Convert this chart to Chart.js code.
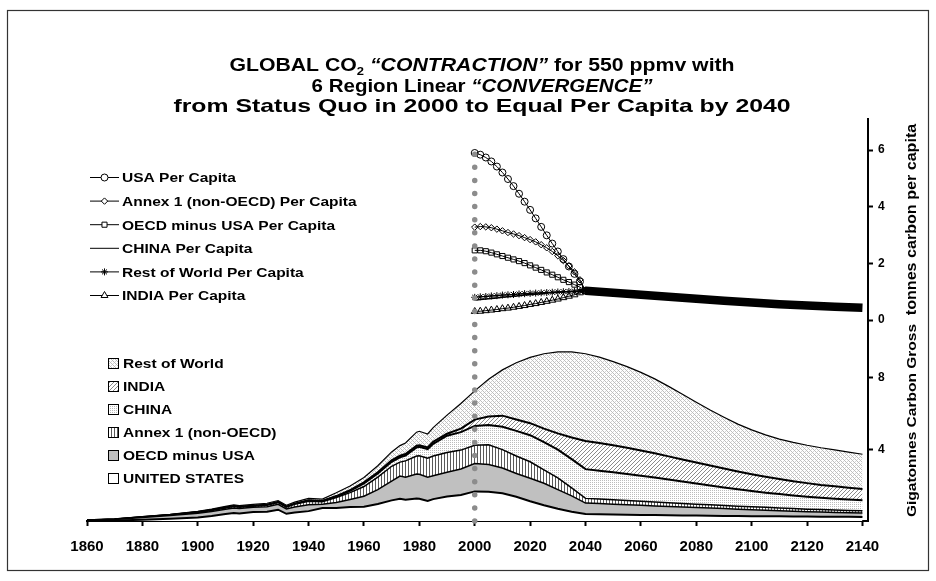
<!DOCTYPE html>
<html>
<head>
<meta charset="utf-8">
<title>Global CO2 Contraction and Convergence</title>
<script src="https://cdn.jsdelivr.net/npm/chart.js@4.4.0/dist/chart.umd.min.js"></script>
<style>
  html, body { margin: 0; padding: 0; background: #fff; }
  canvas { display: block; }
</style>
</head>
<body>
<canvas id="ccChart" width="936" height="581"></canvas>
<script>
// Emission years: history at uneven steps, projection every 5 years
var years = [1860, 1870, 1880, 1890, 1900, 1905, 1910, 1913, 1915, 1920, 1925, 1929, 1932, 1935, 1940,
  1945, 1950, 1955, 1960, 1965, 1970, 1973, 1975, 1979, 1980, 1983, 1985, 1990, 1995,
  2000, 2005, 2010, 2015, 2020, 2025, 2030, 2035, 2040, 2045, 2050, 2055, 2060, 2065, 2070,
  2075, 2080, 2085, 2090, 2095, 2100, 2105, 2110, 2115, 2120, 2125, 2130, 2135, 2140];

// Gigatonnes carbon per region (stacked bottom to top)
var usGross = [0.01, 0.03, 0.07, 0.13, 0.20, 0.28, 0.39, 0.44, 0.42, 0.50, 0.52, 0.63, 0.40, 0.47, 0.55,
  0.72, 0.72, 0.78, 0.80, 0.95, 1.15, 1.24, 1.18, 1.26, 1.24, 1.12, 1.22, 1.36, 1.45,
  1.65, 1.63, 1.55, 1.35, 1.10, 0.88, 0.68, 0.52, 0.39, 0.38, 0.36, 0.35, 0.34, 0.33, 0.32,
  0.31, 0.30, 0.29, 0.28, 0.28, 0.27, 0.26, 0.26, 0.25, 0.25, 0.24, 0.23, 0.23, 0.22];
var oecdGross = [0.03, 0.06, 0.12, 0.17, 0.23, 0.25, 0.27, 0.29, 0.28, 0.26, 0.27, 0.30, 0.27, 0.31, 0.35,
  0.22, 0.31, 0.42, 0.58, 0.80, 1.07, 1.26, 1.26, 1.36, 1.36, 1.32, 1.30, 1.36, 1.45,
  1.55, 1.52, 1.40, 1.30, 1.28, 1.22, 1.07, 0.88, 0.61, 0.59, 0.58, 0.56, 0.54, 0.51, 0.49,
  0.47, 0.45, 0.43, 0.41, 0.38, 0.36, 0.34, 0.31, 0.30, 0.27, 0.26, 0.25, 0.23, 0.23];
var annexGross = [0.005, 0.01, 0.02, 0.03, 0.05, 0.06, 0.07, 0.08, 0.07, 0.06, 0.09, 0.10, 0.10, 0.15, 0.20,
  0.13, 0.28, 0.38, 0.54, 0.70, 0.83, 0.78, 0.91, 1.00, 1.03, 1.06, 1.10, 1.10, 1.05,
  1.02, 1.10, 1.03, 0.97, 0.92, 0.75, 0.65, 0.45, 0.26, 0.25, 0.24, 0.23, 0.22, 0.22, 0.21,
  0.20, 0.19, 0.18, 0.17, 0.16, 0.16, 0.16, 0.15, 0.14, 0.14, 0.14, 0.13, 0.13, 0.12];
var chinaGross = [0, 0, 0.005, 0.005, 0.01, 0.01, 0.01, 0.01, 0.01, 0.02, 0.02, 0.02, 0.02, 0.02, 0.03,
  0.03, 0.05, 0.10, 0.18, 0.20, 0.25, 0.27, 0.29, 0.48, 0.50, 0.50, 0.68, 0.93, 1.00,
  1.08, 1.10, 1.27, 1.40, 1.48, 1.55, 1.58, 1.60, 1.63, 1.58, 1.53, 1.48, 1.42, 1.36, 1.29,
  1.22, 1.15, 1.08, 1.01, 0.95, 0.88, 0.82, 0.78, 0.73, 0.69, 0.65, 0.63, 0.61, 0.59];
var indiaGross = [0, 0, 0.005, 0.005, 0.01, 0.01, 0.01, 0.01, 0.01, 0.01, 0.01, 0.01, 0.01, 0.01, 0.02,
  0.02, 0.03, 0.04, 0.05, 0.07, 0.08, 0.09, 0.09, 0.10, 0.09, 0.10, 0.12, 0.11, 0.20,
  0.35, 0.47, 0.62, 0.64, 0.67, 0.75, 0.90, 1.20, 1.57, 1.55, 1.51, 1.46, 1.41, 1.35, 1.29,
  1.23, 1.17, 1.11, 1.05, 0.99, 0.94, 0.89, 0.84, 0.80, 0.76, 0.72, 0.69, 0.65, 0.62];
var rowGross = [0.005, 0.01, 0.02, 0.03, 0.04, 0.05, 0.06, 0.07, 0.07, 0.08, 0.08, 0.08, 0.08, 0.09, 0.11,
  0.10, 0.18, 0.23, 0.27, 0.36, 0.47, 0.56, 0.62, 0.75, 0.78, 0.75, 0.78, 1.04, 1.40,
  1.60, 2.08, 2.55, 3.16, 3.67, 4.17, 4.54, 4.77, 4.86, 4.78, 4.66, 4.52, 4.35, 4.15, 3.90,
  3.63, 3.36, 3.09, 2.86, 2.64, 2.47, 2.33, 2.22, 2.16, 2.11, 2.07, 2.03, 1.99, 1.94];

// Tonnes carbon per capita during convergence, every 2 years
var perCapitaYears = [2000, 2002, 2004, 2006, 2008, 2010, 2012, 2014, 2016, 2018, 2020,
  2022, 2024, 2026, 2028, 2030, 2032, 2034, 2036, 2038, 2040];
var usaPerCapita = [5.90, 5.84, 5.74, 5.60, 5.42, 5.21, 4.98, 4.73, 4.46, 4.18, 3.89,
  3.59, 3.29, 2.99, 2.70, 2.42, 2.15, 1.89, 1.63, 1.36, 1.03];
var annexPerCapita = [3.28, 3.30, 3.29, 3.26, 3.21, 3.15, 3.09, 3.04, 2.98, 2.91, 2.84,
  2.76, 2.66, 2.55, 2.42, 2.27, 2.10, 1.91, 1.70, 1.42, 1.03];
var oecdPerCapita = [2.46, 2.46, 2.43, 2.38, 2.32, 2.26, 2.20, 2.14, 2.08, 2.01, 1.93,
  1.85, 1.77, 1.68, 1.60, 1.51, 1.42, 1.34, 1.25, 1.16, 1.03];
var chinaPerCapita = [0.70, 0.72, 0.74, 0.76, 0.78, 0.80, 0.82, 0.84, 0.86, 0.88, 0.90,
  0.91, 0.93, 0.95, 0.96, 0.98, 0.99, 1.00, 1.01, 1.02, 1.03];
var rowPerCapita = [0.80, 0.82, 0.83, 0.85, 0.86, 0.88, 0.89, 0.90, 0.92, 0.93, 0.94,
  0.95, 0.96, 0.97, 0.98, 0.99, 1.00, 1.01, 1.02, 1.02, 1.03];
var indiaPerCapita = [0.30, 0.31, 0.33, 0.35, 0.37, 0.40, 0.42, 0.45, 0.48, 0.51, 0.55,
  0.58, 0.62, 0.66, 0.70, 0.74, 0.79, 0.84, 0.89, 0.96, 1.03];

// after 2040 every region sits on the same per capita value
var convergedYears = [2040, 2050, 2060, 2070, 2080, 2090, 2100, 2110, 2120, 2130, 2140];
var convergedPerCapita = [1.03, 0.96, 0.89, 0.82, 0.75, 0.68, 0.62, 0.56, 0.51, 0.47, 0.43];

var yearTicks = [1860, 1880, 1900, 1920, 1940, 1960, 1980, 2000, 2020, 2040, 2060, 2080, 2100, 2120, 2140];
var perCapitaTicks = [0, 2, 4, 6];
var grossTicks = [4, 8];
var markerYear = 2000;

var titleLines = [
  [["GLOBAL CO", "b"], ["2", "sub"], [" ", "b"], ["\u201cCONTRACTION\u201d", "bi"], [" for 550 ppmv with", "b"]],
  [["6 Region Linear ", "b"], ["\u201cCONVERGENCE\u201d", "bi"]],
  [["from Status Quo in 2000 to Equal Per Capita by 2040", "b"]]
];

var FONT = "'Liberation Sans', Arial, sans-serif";
Chart.defaults.font.family = FONT;
Chart.defaults.color = "#000";

var canvas = document.getElementById("ccChart");
var ctx = canvas.getContext("2d");

// small tiled fills in the style of the old spreadsheet patterns
function makePattern(w, h, paint) {
  var c = document.createElement("canvas");
  c.width = w; c.height = h;
  var g = c.getContext("2d");
  g.fillStyle = "#fff";
  g.fillRect(0, 0, w, h);
  paint(g);
  return ctx.createPattern(c, "repeat");
}
function dots(g, color, list) {
  g.fillStyle = color;
  list.forEach(function (p) { g.fillRect(p[0], p[1], 1, 1); });
}
var rowFill = makePattern(4, 4, function (g) {
  dots(g, "#bdbdbd", [[0, 0], [1, 1], [2, 2], [3, 3]]);
  dots(g, "#d6d6d6", [[3, 1], [1, 3]]);
});
var indiaFill = makePattern(4, 4, function (g) {
  dots(g, "#8a8a8a", [[3, 0], [2, 1], [1, 2], [0, 3]]);
});
var chinaFill = makePattern(2, 2, function (g) {
  dots(g, "#bcbcbc", [[0, 0]]);
});
var annexFill = makePattern(3, 1, function (g) {
  dots(g, "#5a5a5a", [[0, 0]]);
});

function pts(xs, ys) {
  return ys.map(function (v, i) { return { x: xs[i], y: v }; });
}

var regions = [
  { label: "UNITED STATES", values: usGross, fill: "#ffffff", width: 2 },
  { label: "OECD minus USA", values: oecdGross, fill: "#c0c0c0", width: 1.5 },
  { label: "Annex 1 (non-OECD)", values: annexGross, fill: annexFill, width: 1.5 },
  { label: "CHINA", values: chinaGross, fill: chinaFill, width: 2 },
  { label: "INDIA", values: indiaGross, fill: indiaFill, width: 2 },
  { label: "Rest of World", values: rowGross, fill: rowFill, width: 1.2 }
];

var perCapita = [
  { label: "USA Per Capita", values: usaPerCapita, style: "circle", radius: 3.5 },
  { label: "Annex 1 (non-OECD) Per Capita", values: annexPerCapita, style: "rectRot", radius: 3.2 },
  { label: "OECD minus USA Per Capita", values: oecdPerCapita, style: "rect", radius: 3.6 },
  { label: "CHINA Per Capita", values: chinaPerCapita, style: false, radius: 0 },
  { label: "Rest of World Per Capita", values: rowPerCapita, style: "star", radius: 3.5 },
  { label: "INDIA Per Capita", values: indiaPerCapita, style: "triangle", radius: 4 }
];

var datasets = [];
regions.forEach(function (r, i) {
  datasets.push({
    label: r.label,
    data: pts(years, r.values),
    yAxisID: "y",
    stack: "gross",
    fill: i === 0 ? "origin" : "-1",
    backgroundColor: r.fill,
    borderColor: "#000",
    borderWidth: r.width,
    pointRadius: 0,
    tension: 0,
    order: 2,
    kind: "area"
  });
});
perCapita.forEach(function (p) {
  datasets.push({
    label: p.label,
    data: pts(perCapitaYears, p.values),
    yAxisID: "y2",
    fill: false,
    borderColor: "#000",
    borderWidth: p.style ? 1 : 1.5,
    pointStyle: p.style || "circle",
    pointRadius: p.radius,
    pointBorderWidth: 1,
    pointBorderColor: "#000",
    pointBackgroundColor: "rgba(255,255,255,0)",
    tension: 0,
    order: 1,
    kind: "capita"
  });
});
datasets.push({
  label: "Equal Per Capita",
  data: pts(convergedYears, convergedPerCapita),
  yAxisID: "y2",
  fill: false,
  borderColor: "#000",
  borderWidth: 8.5,
  borderCapStyle: "butt",
  pointRadius: 0,
  tension: 0,
  order: 1
});

// text with a slight horizontal stretch, parts = [[text, kind]]
var STRETCH = 1.15;
function partFont(kind, size) {
  if (kind === "bi") return "italic bold " + size + "px " + FONT;
  if (kind === "sub") return "bold " + Math.round(size * 0.62) + "px " + FONT;
  return "bold " + size + "px " + FONT;
}
function drawParts(c, parts, x, y, size, align, stretch) {
  var w = 0;
  parts.forEach(function (p) { c.font = partFont(p[1], size); w += c.measureText(p[0]).width; });
  var start = align === "center" ? x - w * stretch / 2 : x;
  c.save();
  c.translate(start, y);
  c.scale(stretch, 1);
  c.textAlign = "left";
  c.textBaseline = "alphabetic";
  var cx = 0;
  parts.forEach(function (p) {
    c.font = partFont(p[1], size);
    c.fillText(p[0], cx, p[1] === "sub" ? size * 0.22 : 0);
    cx += c.measureText(p[0]).width;
  });
  c.restore();
}
function drawVertical(c, text, x, cy, size, stretch) {
  c.save();
  c.translate(x, cy);
  c.rotate(-Math.PI / 2);
  c.scale(stretch, 1);
  c.font = "bold " + size + "px " + FONT;
  c.textAlign = "center";
  c.textBaseline = "alphabetic";
  c.fillText(text, 0, 0);
  c.restore();
}

var ccDecor = {
  id: "ccDecor",
  beforeDraw: function (chart) {
    var c = chart.ctx;
    c.save();
    c.fillStyle = "#fff";
    c.fillRect(0, 0, chart.width, chart.height);
    c.strokeStyle = "#333";
    c.lineWidth = 1.2;
    c.strokeRect(7.5, 10.5, 921, 560);
    c.restore();
  },
  afterDatasetsDraw: function (chart) {
    // dotted marker at the start of convergence
    var c = chart.ctx;
    var px = chart.scales.x.getPixelForValue(markerYear);
    var bottom = chart.scales.y.getPixelForValue(0);
    var top = chart.scales.y2.getPixelForValue(usaPerCapita[0]);
    c.save();
    c.strokeStyle = "#8c8c8c";
    c.lineWidth = 5.5;
    c.lineCap = "round";
    c.setLineDash([0, 13.1]);
    c.beginPath();
    c.moveTo(px, bottom);
    c.lineTo(px, top - 2);
    c.stroke();
    c.restore();
  },
  afterDraw: function (chart) {
    var c = chart.ctx;
    c.save();
    c.fillStyle = "#000";

    // title
    var base = [71, 91.5, 112];
    var sizes = [18, 18, 18.5];
    var widen = [1.18, 1.14, 1.34];
    titleLines.forEach(function (line, i) {
      drawParts(c, line, 482, base[i], sizes[i], "center", widen[i]);
    });

    // per capita legend
    var sets = chart.data.datasets;
    var capSets = sets.filter(function (d) { return d.kind === "capita"; });
    capSets.forEach(function (d, i) {
      var cy = 177.5 + i * 23.6;
      c.strokeStyle = "#000";
      c.lineWidth = 1;
      c.setLineDash([]);
      c.beginPath();
      c.moveTo(90, cy);
      c.lineTo(119, cy);
      c.stroke();
      if (d.pointRadius > 0 && d.borderWidth < 1.5) {
        c.fillStyle = "#fff";
        Chart.helpers.drawPoint(c, { pointStyle: d.pointStyle, radius: d.pointRadius, rotation: 0, borderWidth: 1 }, 104.5, cy);
      }
      c.fillStyle = "#000";
      drawParts(c, [[d.label, "b"]], 122, cy + 4.8, 13.5, "left", STRETCH);
    });

    // emission legend, top of the stack first
    var areaSets = sets.filter(function (d) { return d.kind === "area"; }).reverse();
    areaSets.forEach(function (d, i) {
      var cy = 363.5 + i * 23;
      c.fillStyle = d.backgroundColor;
      c.fillRect(108, cy - 5.5, 11, 11);
      c.strokeStyle = "#000";
      c.lineWidth = 1;
      c.strokeRect(108.5, cy - 5, 10, 10);
      c.fillStyle = "#000";
      drawParts(c, [[d.label, "b"]], 123, cy + 4.8, 13.5, "left", STRETCH);
    });

    // axis titles on the right
    var yu = chart.scales.y2, yl = chart.scales.y;
    drawVertical(c, "tonnes carbon per capita", 916, (yu.top + yu.bottom) / 2, 14, STRETCH);
    drawVertical(c, "Gigatonnes Carbon Gross", 916, (yl.top + yl.bottom) / 2, 13.5, STRETCH);
    c.restore();
  }
};

function fixedTicks(list) {
  return function (scale) {
    scale.ticks = list.map(function (v) { return { value: v }; });
  };
}

var ccChart = new Chart(ctx, {
  type: "line",
  data: { datasets: datasets },
  options: {
    responsive: false,
    animation: false,
    layout: { padding: { left: 87, top: 119, right: 0, bottom: 0 } },
    plugins: {
      legend: { display: false },
      tooltip: { enabled: false },
      title: { display: false }
    },
    scales: {
      x: {
        type: "linear",
        min: 1860,
        max: 2142,
        afterBuildTicks: fixedTicks(yearTicks),
        afterFit: function (s) { s.height = 60; },
        grid: { drawOnChartArea: false, drawTicks: true, tickLength: 5, tickWidth: 2, tickColor: "#000" },
        border: { display: true, color: "#000", width: 2 },
        ticks: {
          color: "#000",
          padding: 12,
          maxRotation: 0,
          autoSkip: false,
          font: { size: 15, weight: "bold" },
          callback: function (v) { return String(v); }
        }
      },
      y2: {
        position: "right",
        stack: "right",
        stackWeight: 1,
        stacked: false,
        min: 0,
        max: 7.1,
        afterBuildTicks: fixedTicks(perCapitaTicks),
        afterFit: function (s) { s.width = 68; },
        grid: { drawOnChartArea: false, tickLength: 5, tickWidth: 2, tickColor: "#000" },
        border: { display: true, color: "#000", width: 2 },
        ticks: { color: "#000", padding: 5, font: { size: 12, weight: "bold" } }
      },
      y: {
        position: "right",
        stack: "right",
        stackWeight: 1,
        stacked: true,
        min: 0,
        max: 11.2,
        afterBuildTicks: fixedTicks(grossTicks),
        afterFit: function (s) { s.width = 68; },
        grid: { drawOnChartArea: false, tickLength: 5, tickWidth: 2, tickColor: "#000" },
        border: { display: true, color: "#000", width: 2 },
        ticks: { color: "#000", padding: 5, font: { size: 12, weight: "bold" } }
      }
    }
  },
  plugins: [ccDecor]
});
</script>
</body>
</html>
